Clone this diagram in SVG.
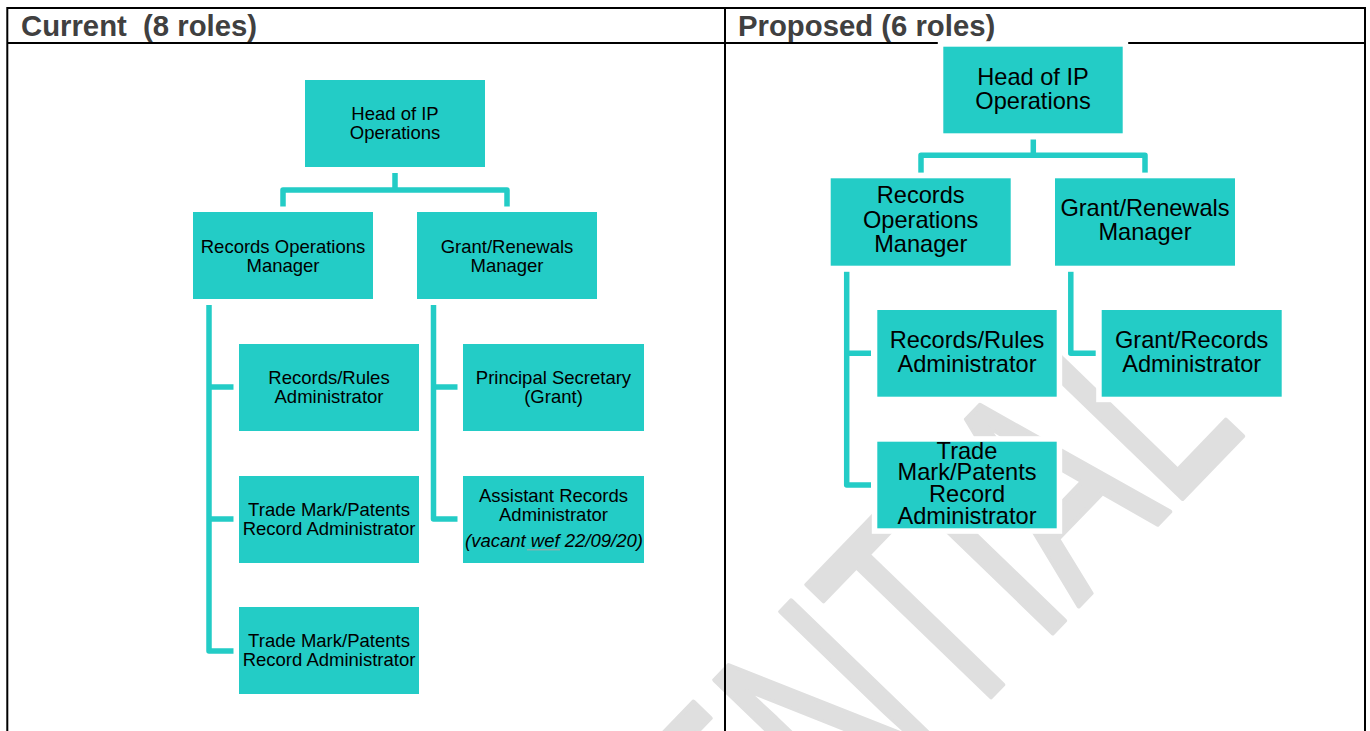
<svg xmlns="http://www.w3.org/2000/svg" width="1370" height="731" viewBox="0 0 1370 731">
<style>
.box{fill:#23ccc6;stroke:#ffffff;stroke-width:11;paint-order:stroke}
.t{font-family:"Liberation Sans",Arial,sans-serif;fill:#000;text-anchor:middle}
.s{font-size:18.5px}
.b{font-size:23.6px}
.hdr{font-family:"Liberation Sans",Arial,sans-serif;font-weight:bold;font-size:29.3px;fill:#404040}
.con{fill:none;stroke:#23ccc6;stroke-width:5.5;stroke-linejoin:round}
.grid{stroke:#000;stroke-width:2;fill:none}
</style>
<rect width="1370" height="731" fill="#fff"/>
<g id="watermark">
<text x="0" y="0" font-family="Liberation Sans, Arial, sans-serif" font-size="200" fill="#dfdfdf" stroke="#dfdfdf" stroke-width="3" stroke-linejoin="round" transform="translate(229,1486) rotate(-46) scale(1,1.53)">CONFIDENTIAL</text>
</g>
<g id="table">
<path class="grid" d="M7,8 H1366 M7,43 H1366 M7.3,7 V731 M725,7 V731 M1365,7 V731"/>
<text class="hdr" x="21" y="36">Current&#160; (8 roles)</text>
<text class="hdr" x="738" y="36">Proposed (6 roles)</text>
</g>
<g id="connectors">
<path class="con" d="M395,173 V190 M283,207 V190 H507 V207"/>
<path class="con" d="M209,305 V651 H234 M209,387 H234 M209,519 H234"/>
<path class="con" d="M433.5,305 V519 H458.5 M433.5,387 H458.5"/>
<path class="con" d="M1033.3,139.5 V155.3 M921,172.7 V155.3 H1145 V172.7"/>
<path class="con" d="M846.7,271.7 V485 H871 M846.7,353.3 H871"/>
<path class="con" d="M1070.8,271.7 V353.3 H1095.7"/>
</g>
<g id="cur-head"><rect class="box" x="305" y="80" width="180" height="87"/>
<text class="t s" x="395" y="119.5">Head of IP</text><text class="t s" x="395" y="139">Operations</text></g>
<g id="cur-rom"><rect class="box" x="193" y="212" width="180" height="87"/>
<text class="t s" x="283" y="252.5">Records Operations</text><text class="t s" x="283" y="271.5">Manager</text></g>
<g id="cur-grm"><rect class="box" x="417" y="212" width="180" height="87"/>
<text class="t s" x="507" y="252.5">Grant/Renewals</text><text class="t s" x="507" y="271.5">Manager</text></g>
<g id="cur-rra"><rect class="box" x="239" y="344" width="180" height="87"/>
<text class="t s" x="329" y="384">Records/Rules</text><text class="t s" x="329" y="403">Administrator</text></g>
<g id="cur-tmp1"><rect class="box" x="239" y="476" width="180" height="87"/>
<text class="t s" x="329" y="515.5">Trade Mark/Patents</text><text class="t s" x="329" y="535">Record Administrator</text></g>
<g id="cur-tmp2"><rect class="box" x="239" y="607" width="180" height="87"/>
<text class="t s" x="329" y="647">Trade Mark/Patents</text><text class="t s" x="329" y="666">Record Administrator</text></g>
<g id="cur-ps"><rect class="box" x="463" y="344" width="181" height="87"/>
<text class="t s" x="553.5" y="384">Principal Secretary</text><text class="t s" x="553.5" y="403">(Grant)</text></g>
<g id="cur-ara"><rect class="box" x="463" y="476" width="181" height="87"/>
<text class="t s" x="553.5" y="501.7">Assistant Records</text><text class="t s" x="553.5" y="520.7">Administrator</text>
<text class="t s" x="554" y="547.3" font-style="italic">(vacant wef 22/09/20)</text>
<line x1="527" y1="549.8" x2="560" y2="549.8" stroke="#b9a3a3" stroke-width="1"/></g>
<g id="pro-head"><rect class="box" x="943.3" y="46.7" width="179.4" height="86.6"/>
<text class="t b" x="1033" y="85">Head of IP</text><text class="t b" x="1033" y="109">Operations</text></g>
<g id="pro-rom"><rect class="box" x="830.7" y="178.3" width="180" height="87.4"/>
<text class="t b" x="920.7" y="203.3">Records</text><text class="t b" x="920.7" y="227.7">Operations</text><text class="t b" x="920.7" y="251.7">Manager</text></g>
<g id="pro-grm"><rect class="box" x="1055" y="178.3" width="180" height="87.4"/>
<text class="t b" x="1145" y="215.7">Grant/Renewals</text><text class="t b" x="1145" y="240">Manager</text></g>
<g id="pro-rra"><rect class="box" x="877.3" y="310" width="179.4" height="86.7"/>
<text class="t b" x="967" y="348.3">Records/Rules</text><text class="t b" x="967" y="372.3">Administrator</text></g>
<g id="pro-gra"><rect class="box" x="1101.7" y="310" width="180" height="86.7"/>
<text class="t b" x="1191.7" y="348.3">Grant/Records</text><text class="t b" x="1191.7" y="372.3">Administrator</text></g>
<g id="pro-tmp"><rect class="box" x="877.3" y="441.7" width="179.4" height="86.6"/>
<text class="t b" x="967" y="458.7">Trade</text><text class="t b" x="967" y="480.3">Mark/Patents</text><text class="t b" x="967" y="502.3">Record</text><text class="t b" x="967" y="524.3">Administrator</text></g>
</svg>
